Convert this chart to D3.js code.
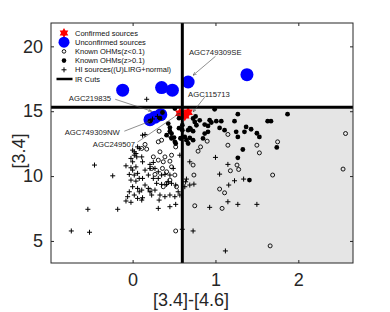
<!DOCTYPE html>
<html>
<head>
<meta charset="utf-8">
<script src="https://cdn.jsdelivr.net/npm/d3@7"></script>
<style>
  body { margin: 0; background: #fff; }
  text { font-family: "Liberation Sans", Arial, sans-serif; }
</style>
</head>
<body>
<div class="chart"></div>
<script>
// [3.4]-[4.6] colour vs [3.4] magnitude

const confirmed = [[0.57, 14.85], [0.67, 14.92], [0.63, 14.65]]

const unconfirmed = [[-0.12, 16.62], [0.35, 16.82], [0.48, 16.62], [0.67, 17.25], [1.38, 17.82],
  [0.21, 14.35], [0.27, 14.54], [0.34, 14.73]]

const ohmLowZ = [[1.15, 13.21], [1.15, 12.38], [1.50, 12.38], [1.53, 11.79], [1.75, 12.64], [0.82, 12.25],
  [0.79, 11.92], [0.90, 12.69], [0.73, 10.85], [0.74, 10.08], [1.26, 10.85], [1.28, 10.51], [1.18, 10.41],
  [1.69, 10.08], [2.57, 13.28], [2.54, 10.54], [1.05, 9.00], [1.11, 8.71], [0.75, 7.71], [1.08, 7.51],
  [1.66, 4.62], [0.52, 5.77], [0.32, 13.46], [0.35, 12.77], [0.31, 12.64], [0.44, 13.15], [0.47, 12.95],
  [0.15, 12.44], [0.17, 12.08], [0.11, 12.13], [0.33, 11.87], [0.25, 11.48], [0.39, 11.48], [0.47, 11.61],
  [0.52, 12.25], [0.31, 11.23], [0.37, 11.10], [0.45, 11.15], [0.47, 10.71], [0.36, 10.59], [0.41, 10.33],
  [0.23, 10.59], [0.27, 10.13], [0.51, 10.08], [0.41, 9.44], [0.45, 9.69], [0.37, 9.18], [0.21, 8.92],
  [0.53, 9.18]]

const ohmHighZ = [[0.99, 15.15], [1.27, 14.77], [1.87, 14.77], [1.63, 14.23], [1.67, 14.23], [1.23, 14.23],
  [0.93, 14.31], [0.95, 14.13], [1.01, 14.23], [1.07, 14.23], [0.87, 13.97], [0.91, 13.87], [1.05, 13.71],
  [1.11, 13.54], [1.25, 13.41], [1.27, 13.02], [1.37, 13.79], [1.43, 13.61], [1.35, 13.41], [1.53, 13.02],
  [1.50, 13.30], [1.74, 12.21], [1.33, 12.05], [1.27, 11.41], [1.41, 9.69], [0.73, 14.44], [0.75, 14.17],
  [0.77, 13.92], [0.70, 13.61], [0.73, 13.46], [0.67, 13.54], [0.85, 12.90], [0.87, 13.28], [0.67, 12.51],
  [0.60, 13.92], [0.60, 13.54], [0.58, 12.90], [0.63, 13.02], [0.56, 14.46], [0.56, 13.69], [0.58, 12.92],
  [0.43, 14.05], [0.45, 13.74], [0.47, 13.28], [0.50, 12.97], [0.51, 12.64], [0.41, 13.15], [0.76, 14.60],
  [0.81, 14.30], [0.33, 14.46], [0.21, 14.23], [0.51, 15.20], [0.36, 14.90], [0.69, 13.69], [0.91, 13.41],
  [0.45, 13.46], [0.47, 12.90], [0.52, 12.51], [0.69, 12.95], [0.65, 12.77], [0.73, 12.77]]

const hiSources = [[0.17, 15.92], [0.15, 13.21], [0.08, 12.13], [0.02, 11.61], [-0.02, 11.36], [0.00, 11.10],
  [0.05, 11.48], [0.11, 11.48], [0.12, 11.10], [-0.08, 10.79], [-0.02, 10.64], [0.04, 10.71], [0.15, 10.46],
  [0.21, 10.59], [0.27, 10.59], [-0.24, 10.02], [-0.04, 10.13], [0.02, 10.08], [0.06, 10.21], [-0.02, 9.69],
  [0.04, 9.61], [0.12, 9.82], [0.19, 10.08], [0.25, 9.82], [0.31, 9.82], [0.35, 10.08], [0.29, 9.44],
  [0.35, 9.36], [0.41, 9.36], [0.43, 9.56], [0.47, 9.44], [0.52, 9.31], [0.00, 9.18], [0.06, 9.05],
  [0.08, 8.79], [0.19, 9.05], [0.21, 8.79], [0.23, 8.54], [-0.06, 8.41], [-0.08, 8.08], [-0.02, 7.98],
  [0.06, 8.28], [0.11, 8.15], [0.12, 8.33], [-0.18, 7.44], [0.33, 8.54], [0.45, 8.54], [0.31, 7.51],
  [0.45, 7.64], [0.52, 7.82], [-0.54, 7.44], [-0.74, 5.77], [-0.52, 5.67], [0.55, 8.79], [-0.46, 10.85],
  [0.00, 12.00], [0.06, 12.25], [0.65, 9.77], [0.69, 9.31], [0.74, 9.38], [0.64, 9.56], [0.93, 7.59],
  [1.15, 8.02], [1.16, 9.31], [1.23, 9.64], [1.27, 7.82], [1.12, 4.23], [0.73, 5.77], [1.00, 11.44],
  [1.15, 10.90], [1.05, 10.15], [1.34, 9.77], [0.69, 11.10], [0.63, 9.18], [0.60, 5.90], [1.50, 7.82],
  [0.21, 10.90], [0.25, 11.05], [0.31, 10.33], [0.39, 10.13], [0.45, 10.08], [0.49, 10.59], [0.57, 11.61],
  [0.00, 10.46], [0.08, 9.82], [0.15, 9.31], [0.11, 8.92], [-0.04, 8.79], [0.02, 8.54], [0.27, 8.92],
  [0.32, 8.15], [0.39, 8.41], [0.51, 8.41], [0.57, 8.54], [0.24, 14.40], [0.30, 14.60], [0.02, 11.87],
  [0.04, 11.74], [0.12, 13.15]]

// IR cuts: [3.4]-[4.6] > 0.6 and [3.4] < 15.3
const colourCut = 0.6
const magCut = 15.3

const xTicks = [0, 1, 2]
const yTicks = [5, 10, 15, 20]

const legendLabels = ['Confirmed sources', 'Unconfirmed sources', 'Known OHMs(z<0.1)',
  'Known OHMs(z>0.1)', 'HI sources((U)LIRG+normal)', 'IR Cuts']

const annoLabels = ['AGC749309SE', 'AGC219835', 'AGC115713', 'AGC749309NW', 'AGC249507']
const annoText = [[0.68, 19.54], [-0.77, 16.0], [0.67, 16.31], [-0.82, 13.38], [-0.48, 12.46]]
const annoFrom = [[1.00, 19.23], [-0.21, 15.92], [0.87, 16.08], [-0.10, 13.46], [0.06, 12.62]]
const annoTip = [[0.73, 17.77], [0.23, 15.0], [0.73, 14.95], [0.21, 14.23], [0.57, 14.85]]

// Set up the canvas
const margin = { top: 23, right: 37, bottom: 49, left: 51 }
const width = 390 - margin.left - margin.right
const height = 312 - margin.top - margin.bottom
const axisColor = '#262626'

const svg = d3.select('.chart')
  .append('svg')
  .attr('width', 390)
  .attr('height', 312)

const chartGroup = svg.append('g')
  .attr('transform', `translate(${margin.left}, ${margin.top})`)

const xScale = d3.scaleLinear()
  .range([0, width])
  .domain([-0.985, 2.66])

const yScale = d3.scaleLinear()
  .range([height, 0])
  .domain([3.3, 21.8])

// shaded selection region
chartGroup.append('rect')
  .attr('x', xScale(colourCut))
  .attr('y', yScale(magCut))
  .attr('width', width - xScale(colourCut))
  .attr('height', height - yScale(magCut))
  .attr('fill', '#e5e5e5')

const hexagram = r => {
  const pts = []
  for (let i = 0; i < 12; i++) {
    const a = -Math.PI / 2 + i * Math.PI / 6
    const rr = i % 2 === 0 ? r : r / Math.sqrt(3)
    pts.push([rr * Math.cos(a), rr * Math.sin(a)])
  }
  return 'M' + pts.map(p => p.join(',')).join('L') + 'Z'
}

// Unconfirmed / confirmed
chartGroup.selectAll('.unconf')
  .data(unconfirmed)
  .enter()
  .append('circle')
  .attr('cx', d => xScale(d[0]))
  .attr('cy', d => yScale(d[1]))
  .attr('r', 6.5)
  .attr('fill', '#0000ff')

chartGroup.selectAll('.conf')
  .data(confirmed)
  .enter()
  .append('path')
  .attr('d', hexagram(5.5))
  .attr('transform', d => `translate(${xScale(d[0])}, ${yScale(d[1])})`)
  .attr('fill', '#ff0000')

// HI sources
chartGroup.selectAll('.hi')
  .data(hiSources)
  .enter()
  .append('path')
  .attr('d', 'M-2.5,0H2.5M0,-2.5V2.5')
  .attr('transform', d => `translate(${xScale(d[0])}, ${yScale(d[1])})`)
  .attr('stroke', '#000')
  .attr('stroke-width', 1)

// Known OHMs
chartGroup.selectAll('.ohmlow')
  .data(ohmLowZ)
  .enter()
  .append('circle')
  .attr('cx', d => xScale(d[0]))
  .attr('cy', d => yScale(d[1]))
  .attr('r', 2)
  .attr('fill', 'none')
  .attr('stroke', '#000')
  .attr('stroke-width', 0.9)

chartGroup.selectAll('.ohmhigh')
  .data(ohmHighZ)
  .enter()
  .append('circle')
  .attr('cx', d => xScale(d[0]))
  .attr('cy', d => yScale(d[1]))
  .attr('r', 2.4)
  .attr('fill', '#000')

// IR cuts
chartGroup.append('line')
  .attr('x1', xScale(colourCut)).attr('x2', xScale(colourCut))
  .attr('y1', 0).attr('y2', height)
  .attr('stroke', '#000').attr('stroke-width', 3)

chartGroup.append('line')
  .attr('x1', 0).attr('x2', width)
  .attr('y1', yScale(magCut)).attr('y2', yScale(magCut))
  .attr('stroke', '#000').attr('stroke-width', 3)

// Axes, ticks pointing inward on all four sides
const xAxis = d3.axisBottom(xScale).tickValues(xTicks).tickFormat(d3.format('d'))
  .tickSizeInner(-3).tickSizeOuter(0).tickPadding(10)
const yAxis = d3.axisLeft(yScale).tickValues(yTicks).tickFormat(d3.format('d'))
  .tickSizeInner(-3).tickSizeOuter(0).tickPadding(8)
const xTop = d3.axisTop(xScale).tickValues(xTicks).tickSizeInner(-3).tickSizeOuter(0).tickFormat('')
const yRight = d3.axisRight(yScale).tickValues(yTicks).tickSizeInner(-3).tickSizeOuter(0).tickFormat('')

const axes = [
  chartGroup.append('g').attr('transform', `translate(0, ${height})`).call(xAxis),
  chartGroup.append('g').call(yAxis),
  chartGroup.append('g').call(xTop),
  chartGroup.append('g').attr('transform', `translate(${width}, 0)`).call(yRight)
]
axes.forEach(g => {
  g.select('.domain').remove()
  g.selectAll('line').attr('stroke', axisColor)
  g.selectAll('text').attr('fill', axisColor).style('font-size', '18px')
    .style('font-family', '"Liberation Sans", Arial, sans-serif')
})

chartGroup.append('rect')
  .attr('width', width)
  .attr('height', height)
  .attr('fill', 'none')
  .attr('stroke', axisColor)
  .attr('stroke-width', 1)

// Annotations
svg.append('defs').append('marker')
  .attr('id', 'arrow')
  .attr('viewBox', '0 0 10 10')
  .attr('refX', 10).attr('refY', 5)
  .attr('markerWidth', 6).attr('markerHeight', 6)
  .attr('orient', 'auto')
  .append('path')
  .attr('d', 'M0,1L10,5L0,9')
  .attr('fill', 'none')
  .attr('stroke', '#333')
  .attr('stroke-width', 1.2)

annoLabels.forEach((label, i) => {
  chartGroup.append('line')
    .attr('x1', xScale(annoFrom[i][0])).attr('y1', yScale(annoFrom[i][1]))
    .attr('x2', xScale(annoTip[i][0])).attr('y2', yScale(annoTip[i][1]))
    .attr('stroke', '#444')
    .attr('stroke-width', 0.6)
    .attr('marker-end', 'url(#arrow)')
  chartGroup.append('text')
    .attr('x', xScale(annoText[i][0]))
    .attr('y', yScale(annoText[i][1]))
    .attr('dy', '0.35em')
    .style('font-size', '7.7px')
    .attr('fill', '#222')
    .text(label)
})

// Legend
const legend = chartGroup.append('g').attr('transform', 'translate(13, 10)')
legendLabels.forEach((label, i) => {
  const row = legend.append('g').attr('transform', `translate(0, ${i * 9.2})`)
  if (i === 0) row.append('path').attr('d', hexagram(5)).attr('fill', '#ff0000')
  if (i === 1) row.append('circle').attr('r', 5.5).attr('fill', '#0000ff')
  if (i === 2) row.append('circle').attr('r', 1.8).attr('fill', 'none').attr('stroke', '#000').attr('stroke-width', 0.9)
  if (i === 3) row.append('circle').attr('r', 2.3).attr('fill', '#000')
  if (i === 4) row.append('path').attr('d', 'M-2.5,0H2.5M0,-2.5V2.5').attr('stroke', '#000')
  if (i === 5) row.append('line').attr('x1', -7.5).attr('x2', 8.5).attr('stroke', '#000').attr('stroke-width', 2.5)
  row.append('text')
    .attr('x', 11)
    .attr('dy', '0.35em')
    .style('font-size', '7.5px')
    .attr('fill', '#111')
    .text(label)
})

// Axis labels
svg.append('text')
  .attr('transform', 'translate(19, 151) rotate(-90)')
  .attr('text-anchor', 'middle')
  .attr('dy', '0.35em')
  .style('font-size', '18px')
  .attr('fill', axisColor)
  .text('[3.4]')

svg.append('text')
  .attr('x', 191)
  .attr('y', 306)
  .attr('text-anchor', 'middle')
  .style('font-size', '18px')
  .attr('fill', axisColor)
  .text('[3.4]-[4.6]')
</script>
</body>
</html>
